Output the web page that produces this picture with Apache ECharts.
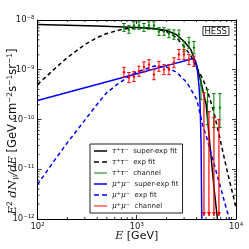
<!DOCTYPE html>
<html><head><meta charset="utf-8">
<script src="https://cdn.jsdelivr.net/npm/echarts@6/dist/echarts.min.js"></script>
<style>html,body{margin:0;padding:0;background:#fff}#c{width:249px;height:249px}</style>
</head><body><div id="c"></div>
<script>
// ---- fitted curves ----
const tauSuperE = [100, 400, 1000, 1500, 2000, 2500, 3000, 3500, 4000, 4500, 5000, 6000, 6500, 7000];
const tauSuperF = [8.11e-9, 7.57e-9, 7.06e-9, 6.74e-9, 6.15e-9, 5.11e-9, 3.69e-9, 2.55e-9, 1.27e-9, 5.04e-10, 2.0e-10, 4.3e-12, 1.0e-12, 3e-13];
const tauExpE = [100, 150, 200, 300, 400, 500, 700, 1000, 1500, 2000, 2500, 3000, 3500, 4000, 4500, 5000, 6000, 7000, 8000, 10000];
const tauExpF = [5.04e-10, 1.06e-9, 1.76e-9, 3.21e-9, 4.45e-9, 5.35e-9, 6.44e-9, 7.06e-9, 6.74e-9, 5.87e-9, 4.45e-9, 2.93e-9, 1.93e-9, 1.11e-9, 7.3e-10, 4.6e-10, 1.38e-10, 3.59e-11, 1.08e-11, 1.69e-12];
const muSuperE = [100, 1000, 2000, 3000, 3600, 3900, 4100, 4250, 4350, 4450, 4520, 4600];
const muSuperF = [2.40e-10, 8.31e-10, 1.21e-9, 1.50e-9, 1.66e-9, 1.53e-9, 9.2e-10, 4.4e-10, 2.0e-10, 3.1e-11, 1.0e-12, 1e-13];
const muExpE = [100, 150, 200, 287, 426, 500, 632, 855, 1000, 1500, 2000, 2540, 3200, 4030, 4320, 4600, 5000, 6000, 7000, 8000, 8700];
const muExpF = [4.90e-12, 1.56e-11, 3.43e-11, 8.67e-11, 2.40e-10, 3.48e-10, 5.04e-10, 7.64e-10, 8.99e-10, 1.19e-9, 1.13e-9, 8.79e-10, 5.52e-10, 2.51e-10, 1.38e-10, 7.89e-11, 4.74e-11, 1.30e-11, 4.26e-12, 1.61e-12, 9.2e-13];

// ---- data points ----
const pointE = [743, 834, 937, 1052, 1181, 1327, 1490, 1673, 1879, 2110, 2370, 2661, 2989, 3356, 3769];
const tauF  = [7.06e-9, 6.44e-9, 7.75e-9, 7.75e-9, 7.06e-9, 7.75e-9, 7.75e-9, 5.87e-9, 5.87e-9, 5.35e-9, 5.11e-9, 5.11e-9, 2.93e-9, 3.53e-9, 2.79e-9];
const tauLo = [5.9e-9, 5.4e-9, 6.5e-9, 6.5e-9, 5.9e-9, 6.5e-9, 6.5e-9, 4.9e-9, 4.9e-9, 4.4e-9, 4.1e-9, 4.1e-9, 2.3e-9, 2.7e-9, 2.1e-9];
const tauHi = [8.5e-9, 7.7e-9, 9.2e-9, 9.2e-9, 8.5e-9, 9.2e-9, 9.2e-9, 7.0e-9, 7.0e-9, 6.5e-9, 6.3e-9, 6.3e-9, 3.7e-9, 4.5e-9, 3.7e-9];
const tauTailE  = [4436, 5155, 5985, 6886];
const tauTailF  = [5.04e-10, 2.29e-10, 1.73e-10, 1.73e-10];
const tauTailLo = [2.51e-10, 7.9e-11, 6.9e-11, 6.9e-11];
const tauTailHi = [6.97e-10, 4.0e-10, 3.32e-10, 3.32e-10];
const muF  = [8.91e-10, 6.97e-10, 7.30e-10, 9.33e-10, 1.14e-9, 1.27e-9, 8.00e-10, 1.17e-9, 1.01e-9, 1.01e-9, 1.38e-9, 2.02e-9, 2.02e-9, 1.60e-9, 1.48e-9];
const muLo = [7.1e-10, 5.5e-10, 5.8e-10, 7.4e-10, 9.0e-10, 1.0e-9, 6.3e-10, 9.3e-10, 8.0e-10, 8.0e-10, 1.1e-9, 1.6e-9, 1.6e-9, 1.27e-9, 1.17e-9];
const muHi = [1.12e-9, 8.8e-10, 9.2e-10, 1.18e-9, 1.44e-9, 1.6e-9, 1.01e-9, 1.47e-9, 1.27e-9, 1.27e-9, 1.74e-9, 2.55e-9, 2.55e-9, 2.02e-9, 1.87e-9];
const muLimE   = [4753, 5338, 5995, 6732];
const muLimTop = [3.48e-10, 1.44e-10, 1.09e-10, 9.95e-11];
const muLimBot = [1.15e-12, 1.15e-12, 1.15e-12, 1.15e-12];

// ---- axis ticks ----
const xMinor = [200,300,400,500,600,700,800,900,2000,3000,4000,5000,6000,7000,8000,9000];
const yMinor = [];
[1e-12,1e-11,1e-10,1e-9].forEach(d => { for (let k = 2; k <= 9; k++) yMinor.push(k * d); });
const X0 = 100, X1 = 10000, Y0 = 1e-12, Y1 = 1e-8;

const zip = (a, b) => a.map((v, i) => [v, b[i]]);
const zip4 = (a, b, c, d) => a.map((v, i) => [v, b[i], c[i], d[i]]);

function errRender(color) {
  return function (params, api) {
    const x = api.value(0);
    const c = api.coord([x, api.value(1)]);
    const pl = api.coord([x, api.value(2)]);
    const ph = api.coord([x, api.value(3)]);
    const st = { stroke: color, lineWidth: 1 };
    return { type: 'group', children: [
      { type: 'line', shape: { x1: pl[0], y1: pl[1], x2: ph[0], y2: ph[1] }, style: st },
      { type: 'line', shape: { x1: pl[0] - 1.7, y1: pl[1], x2: pl[0] + 1.7, y2: pl[1] }, style: st },
      { type: 'line', shape: { x1: ph[0] - 1.7, y1: ph[1], x2: ph[0] + 1.7, y2: ph[1] }, style: st },
      { type: 'circle', shape: { cx: c[0], cy: c[1], r: 1.2 }, style: { fill: color } }
    ]};
  };
}
function limRender(color) {
  return function (params, api) {
    const x = api.value(0);
    const pt = api.coord([x, api.value(1)]);
    const pb = api.coord([x, api.value(2)]);
    const st = { stroke: color, lineWidth: 1.2 };
    return { type: 'group', children: [
      { type: 'line', shape: { x1: pt[0], y1: pt[1], x2: pb[0], y2: pb[1] }, style: st },
      { type: 'line', shape: { x1: pt[0] - 1.7, y1: pt[1], x2: pt[0] + 1.7, y2: pt[1] }, style: st },
      { type: 'polygon', shape: { points: [[pb[0] - 2, pb[1] - 4], [pb[0] + 2, pb[1] - 4], [pb[0], pb[1]]] }, style: { fill: color } }
    ]};
  };
}
function minorXRender(params, api) {
  const v = api.value(0);
  const b = api.coord([v, Y0]), t = api.coord([v, Y1]);
  const st = { stroke: '#000', lineWidth: 0.8 };
  return { type: 'group', children: [
    { type: 'line', shape: { x1: b[0], y1: b[1], x2: b[0], y2: b[1] - 2 }, style: st },
    { type: 'line', shape: { x1: t[0], y1: t[1], x2: t[0], y2: t[1] + 2 }, style: st }
  ]};
}
function minorYRender(params, api) {
  const v = api.value(1);
  const l = api.coord([X0, v]), r = api.coord([X1, v]);
  const st = { stroke: '#000', lineWidth: 0.8 };
  return { type: 'group', children: [
    { type: 'line', shape: { x1: l[0], y1: l[1], x2: l[0] + 2, y2: l[1] }, style: st },
    { type: 'line', shape: { x1: r[0], y1: r[1], x2: r[0] - 2, y2: r[1] }, style: st }
  ]};
}

const SUP = { '0': '\u2070', '1': '\u00b9', '2': '\u00b2', '3': '\u00b3', '4': '\u2074', '5': '\u2075', '6': '\u2076', '7': '\u2077', '8': '\u2078', '9': '\u2079', '-': '\u207b' };
const expLabel = v => {
  const e = Math.round(Math.log10(v));
  return '10' + String(e).split('').map(ch => SUP[ch]).join('');
};
const axisCommon = {
  type: 'log', logBase: 10,
  axisLine: { show: true, lineStyle: { color: '#000', width: 1 } },
  axisTick: { show: true, inside: true, length: 4, lineStyle: { color: '#000', width: 0.8 } },
  splitLine: { show: false }
};

const legendNames = {
  tau_sup: '{m|\u03c4}{s|+}{m|\u03c4}{s|\u2212}{t|  super-exp fit}',
  tau_exp: '{m|\u03c4}{s|+}{m|\u03c4}{s|\u2212}{t|  exp fit}',
  tau_ch:  '{m|\u03c4}{s|+}{m|\u03c4}{s|\u2212}{t|  channel}',
  mu_sup:  '{m|\u03bc}{s|+}{m|\u03bc}{s|\u2212}{t|  super-exp fit}',
  mu_exp:  '{m|\u03bc}{s|+}{m|\u03bc}{s|\u2212}{t|  exp fit}',
  mu_ch:   '{m|\u03bc}{s|+}{m|\u03bc}{s|\u2212}{t|  channel}'
};
const ICON_SOLID = 'path://M0,0h26v3h-26z';
const ICON_DASH = 'path://M0,0h10v3h-10z M16,0h10v3h-10z';
const ICON_THIN = 'path://M0,0h26v2h-26z';

const lineS = (name, e, f, color, dashed) => ({
  name, type: 'line', data: zip(e, f), symbol: 'none', showSymbol: false, smooth: false, clip: true,
  lineStyle: { color, width: 1.5, type: dashed ? [4, 3] : 'solid' }, itemStyle: { color }, z: 3
});

const chart = echarts.init(document.getElementById('c'), null, { renderer: 'canvas' });
chart.setOption({
  animation: false,
  backgroundColor: '#fff',
  title: {
    text: 'HESS', right: 20, top: 26, padding: [1, 2, 0, 2],
    borderColor: '#333', borderWidth: 1,
    textStyle: { fontSize: 8.5, fontWeight: 'normal', color: '#222', fontFamily: 'DejaVu Sans' }
  },
  grid: { left: 37.5, right: 13, top: 20, bottom: 30, containLabel: false, outerBoundsMode: 'none' },
  xAxis: [
    Object.assign({}, axisCommon, {
      min: X0, max: X1, position: 'bottom',
      axisLabel: { formatter: expLabel, margin: 3, fontSize: 8.5, color: '#222', fontFamily: 'DejaVu Sans' },
      name: '{i|E}{n| [GeV]}', nameLocation: 'middle', nameGap: 11, nameMoveOverlap: false,
      nameTextStyle: { fontSize: 11, lineHeight: 13, rich: {
        i: { fontFamily: 'DejaVu Serif', fontStyle: 'italic', fontSize: 11, color: '#111', lineHeight: 13 },
        n: { fontFamily: 'DejaVu Sans', fontSize: 11, color: '#111', lineHeight: 13 } } }
    }),
    Object.assign({}, axisCommon, { min: X0, max: X1, position: 'top', axisLabel: { show: false } })
  ],
  yAxis: [
    Object.assign({}, axisCommon, {
      min: Y0, max: Y1, position: 'left',
      axisLabel: { show: true, formatter: expLabel, margin: 3, fontSize: 8.5, color: '#222', fontFamily: 'DejaVu Sans' },
      name: '{i|E}{sp|2}{i| dN}{sb|\u03b3}{i|/dE}{n| [GeV cm}{sp|\u22122}{n|s}{sp|\u22121}{n|sr}{sp|\u22121}{n|]}',
      nameLocation: 'middle', nameGap: 18, nameRotate: 90, nameMoveOverlap: false,
      nameTextStyle: { fontSize: 11.5, lineHeight: 13, padding: [0, 24, 0, 0], rich: {
        i: { fontFamily: 'DejaVu Serif', fontStyle: 'italic', fontSize: 11.5, color: '#111', lineHeight: 13, verticalAlign: 'bottom' },
        n: { fontFamily: 'DejaVu Sans', fontSize: 11.5, color: '#111', lineHeight: 13, verticalAlign: 'bottom' },
        sp: { fontFamily: 'DejaVu Sans', fontSize: 7.5, color: '#111', lineHeight: 7, verticalAlign: 'top' },
        sb: { fontFamily: 'DejaVu Serif', fontStyle: 'italic', fontSize: 7.5, color: '#111', lineHeight: 7, verticalAlign: 'bottom' } } }
    }),
    Object.assign({}, axisCommon, { min: Y0, max: Y1, position: 'right', axisLabel: { show: false } })
  ],
  legend: {
    orient: 'vertical', left: 90, top: 144,
    data: [
      { name: 'tau_sup', icon: ICON_SOLID }, { name: 'tau_exp', icon: ICON_DASH }, { name: 'tau_ch', icon: ICON_THIN },
      { name: 'mu_sup', icon: ICON_SOLID }, { name: 'mu_exp', icon: ICON_DASH }, { name: 'mu_ch', icon: ICON_THIN }
    ],
    formatter: n => legendNames[n],
    itemWidth: 13, itemHeight: 8, itemGap: 3, symbolKeepAspect: true,
    padding: [3, 4, 3, 4],
    borderColor: '#222', borderWidth: 1, backgroundColor: '#fff',
    textStyle: { fontSize: 7, lineHeight: 8, rich: {
      m: { fontFamily: 'DejaVu Serif', fontStyle: 'italic', fontSize: 7.5, color: '#222', lineHeight: 8, verticalAlign: 'bottom' },
      s: { fontFamily: 'DejaVu Sans', fontSize: 5, color: '#222', lineHeight: 4, verticalAlign: 'top' },
      t: { fontFamily: 'DejaVu Sans', fontSize: 7, color: '#222', lineHeight: 8, verticalAlign: 'bottom' } } }
  },
  series: [
    lineS('tau_sup', tauSuperE, tauSuperF, '#000000', false),
    lineS('tau_exp', tauExpE, tauExpF, '#000000', true),
    { name: 'tau_ch', type: 'line', data: [], symbol: 'none', lineStyle: { color: '#008000', width: 1 }, itemStyle: { color: '#008000' } },
    lineS('mu_sup', muSuperE, muSuperF, '#0000ff', false),
    lineS('mu_exp', muExpE, muExpF, '#0000ff', true),
    { name: 'mu_ch', type: 'line', data: [], symbol: 'none', lineStyle: { color: '#ff0000', width: 1 }, itemStyle: { color: '#ff0000' } },
    { type: 'custom', renderItem: errRender('#008000'), data: zip4(pointE, tauF, tauLo, tauHi), encode: { x: 0, y: 1 }, z: 4, silent: true },
    { type: 'custom', renderItem: errRender('#008000'), data: zip4(tauTailE, tauTailF, tauTailLo, tauTailHi), encode: { x: 0, y: 1 }, z: 4, silent: true },
    { type: 'custom', renderItem: errRender('#ff0000'), data: zip4(pointE, muF, muLo, muHi), encode: { x: 0, y: 1 }, z: 4, silent: true },
    { type: 'custom', renderItem: limRender('#ff0000'), data: muLimE.map((e, i) => [e, muLimTop[i], muLimBot[i]]), encode: { x: 0, y: 1 }, z: 4, silent: true },
    { type: 'custom', renderItem: minorXRender, data: xMinor.map(v => [v, 1e-10]), encode: { x: 0, y: 1 }, silent: true, z: 5 },
    { type: 'custom', renderItem: minorYRender, data: yMinor.map(v => [1000, v]), encode: { x: 0, y: 1 }, silent: true, z: 5 }
  ]
});
</script></body></html>
